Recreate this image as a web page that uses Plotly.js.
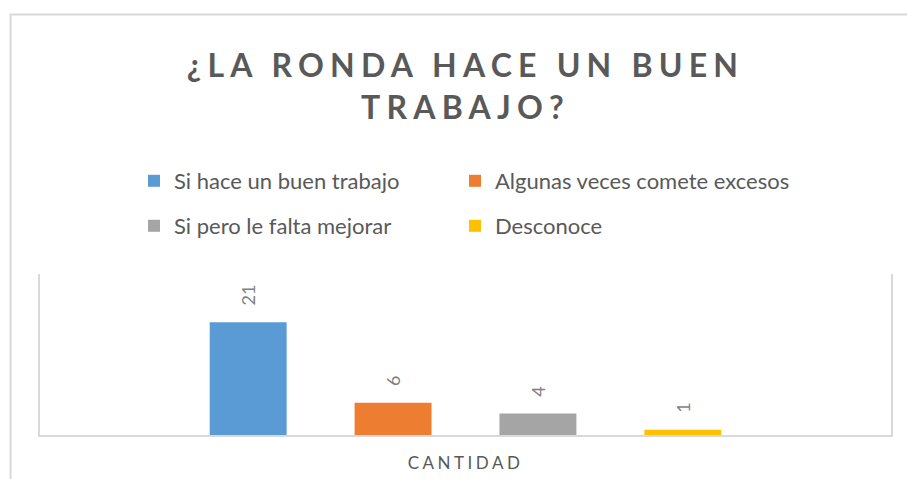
<!DOCTYPE html>
<html>
<head>
<meta charset="utf-8">
<script src="https://cdn.plot.ly/plotly-3.0.1.min.js"></script>
<style>
  html, body { margin: 0; padding: 0; background: #fff; }
  #chart { width: 907px; height: 479px; }
  #chart .gtitle { letter-spacing: 6.2px; }
  #chart .xtick text { letter-spacing: 3.5px; }
</style>
</head>
<body>
<div id="chart"></div>
<script>
// ---- data ----
const titleText = "¿LA RONDA HACE UN BUEN<br>TRABAJO?";
const category = ["CANTIDAD"];
const seriesNames = ["Si hace un buen trabajo", "Algunas veces comete excesos", "Si pero le falta mejorar", "Desconoce"];
const seriesValues = [21, 6, 4, 1];
const seriesColors = ["#5B9BD5", "#ED7D31", "#A5A5A5", "#FFC000"];
const legendIds = ["legend", "legend2", "legend3", "legend4"];

const W = 907, H = 479;
const FONT = "Lato, 'Open Sans', sans-serif";

const traces = seriesNames.map((name, i) => ({
  type: "bar",
  name: name,
  x: category,
  y: [seriesValues[i]],
  marker: { color: seriesColors[i] },
  text: [seriesValues[i]],
  texttemplate: "\u00A0\u00A0\u00A0%{y}",
  textposition: "outside",
  textangle: -90,
  cliponaxis: false,
  textfont: { family: FONT, size: 18, color: "#7f7f7f" },
  legend: legendIds[i],
  hoverinfo: "skip"
}));

// plot area in px
const L = 40, R = 891, T = 274, B = 435;
const px2x = p => (p - L) / (R - L);
const py2y = p => (B - p) / (B - T);

// legend grid: 2 columns x 2 rows (container px)
const legendColX = [134, 455];
const legendRowY = [181, 226];

const layout = {
  width: W, height: H,
  paper_bgcolor: "#ffffff",
  plot_bgcolor: "#ffffff",
  margin: { l: L, r: W - R, t: T, b: H - B, pad: 0 },
  title: {
    text: titleText,
    font: { family: FONT, size: 32, color: "#595959", weight: 700 },
    xref: "paper", x: 0.5, xanchor: "center",
    yref: "container", y: 1 - 77 / H, yanchor: "top"
  },
  showlegend: true,
  barmode: "group",
  bargap: 0.319,
  bargroupgap: 0.469,
  xaxis: {
    type: "category",
    showline: true, linecolor: "#d9d9d9", linewidth: 2,
    ticks: "", showgrid: false, zeroline: false,
    tickfont: { family: FONT, size: 17, color: "#595959" },
    ticklabelstandoff: 12,
    fixedrange: true
  },
  yaxis: {
    range: [0, 30],
    showline: true, mirror: true, linecolor: "#d9d9d9", linewidth: 2,
    showticklabels: false, ticks: "", showgrid: false, zeroline: false,
    fixedrange: true
  },
  shapes: [{
    type: "path",
    xref: "paper", yref: "paper",
    path: `M ${px2x(10.5)} ${py2y(H + 5)} L ${px2x(10.5)} ${py2y(14.5)} L ${px2x(W + 5)} ${py2y(14.5)}`,
    line: { color: "#d9d9d9", width: 2 },
    layer: "below"
  }]
};

legendIds.forEach((id, i) => {
  layout[id] = {
    orientation: "h",
    xref: "container", yref: "container",
    xanchor: "left", yanchor: "middle",
    x: legendColX[i % 2] / W,
    y: 1 - legendRowY[Math.floor(i / 2)] / H,
    font: { family: FONT, size: 22, color: "#595959" },
    bgcolor: "rgba(0,0,0,0)"
  };
});

Plotly.newPlot("chart", traces, layout, { displayModeBar: false, staticPlot: true });
</script>
</body>
</html>
